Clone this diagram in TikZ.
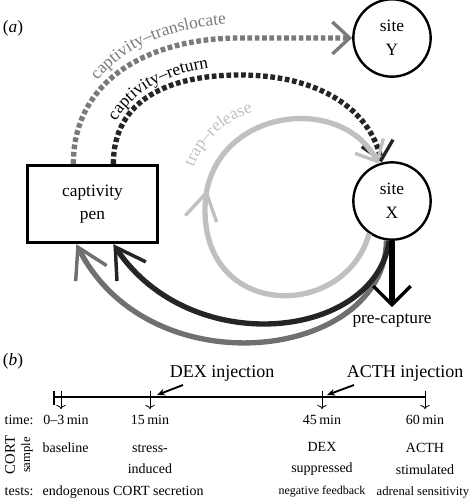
\documentclass[tikz,border=0pt]{standalone}
\usepackage{fontspec}
\setmainfont{Liberation Serif}
\usetikzlibrary{arrows.meta,positioning,calc,decorations.markings,decorations.text}

\definecolor{transgray}{HTML}{7A7A7A}
\definecolor{retdark}{HTML}{252525}
\definecolor{traplight}{HTML}{C0C0C0}
\definecolor{backgray}{HTML}{707070}

\tikzset{
  site/.style={circle,draw,line width=1.8pt,minimum size=58pt,inner sep=0pt,
    align=center,font=\fontsize{13}{18}\selectfont},
  penbox/.style={rectangle,draw,line width=2.2pt,minimum width=97pt,
    minimum height=58pt,align=center,font=\fontsize{13}{17}\selectfont},
  move/.style={line width=4pt,dash pattern=on 3.5pt off 2pt,
    -{Straight Barb[length=13pt,width=24pt,line width=2.5pt]}},
  back/.style={line width=4pt,-{Straight Barb[length=22pt,width=26pt,line width=2.6pt]}},
  curvelab/.style={decorate,decoration={text along path,text align=center,
    text={|\fontsize{13}{15}\selectfont\color{#1}|\pathtext}}},
  tl/.style={font=\fontsize{10.5}{16}\selectfont,align=center},
  inj/.style={line width=1.4pt,-{Stealth[length=6pt,width=5pt]}},
  samp/.style={line width=0.6pt,-{To[length=3pt,width=7pt]}}
}

\begin{document}
\begin{tikzpicture}[x=0.75pt,y=-0.75pt]
\useasboundingbox (0,0) rectangle (474,500);

%(a) places
\node[font=\fontsize{13}{15}\selectfont] (pa) at (13,28) {(\textit{a})};
\node[penbox] (pen) at (92.5,204) {captivity\\pen};
\node[site] (siteY) at (392,38) {site\\Y};
\node[site] (siteX) at (392,201) {site\\X};

%moves out of the pen
\draw[move,transgray] ($(pen.north west)+(47,0)$) .. controls +(0,-85) and (150,38) .. (240,38) -- (siteY.west);
\draw[move,retdark] ($(pen.north west)+(87,0)$) .. controls +(0,-65) and (170,75) .. (240,75)
  .. controls (320,75) and (370,110) .. (siteX.105);

%trap-release loop
\draw[traplight,line width=4pt,-{Straight Barb[length=13pt,width=24pt,line width=2.5pt]},
  postaction={decorate},
  decoration={markings,mark=at position 0.545 with {\arrow[traplight,line width=2.5pt]{Straight Barb[length=20pt,width=24pt]}}}]
  (siteX.235) .. controls (345,320) and (205,320) .. (205,210)
  .. controls (205,110) and (340,90) .. (siteX.110);

%back to the pen
\draw[back,backgray] (siteX.262) .. controls (385,360) and (150,390) .. ($(pen.south west)+(50,0)$);
\draw[back,retdark] (siteX.266) .. controls (375,340) and (190,360) .. ($(pen.south west)+(87,0)$);

%pre-capture
\node[font=\fontsize{13}{15}\selectfont] (pre) at (392,320) {pre-capture};
\draw[line width=4pt,shorten >=1pt,-{Straight Barb[length=14pt,width=28pt,line width=2.6pt]}] (siteX.south) -- (pre.north);

%path labels
\def\pathtext{captivity–translocate}
\path[curvelab=transgray] (90,92) .. controls (115,50) and (165,27) .. (240,23);
\def\pathtext{captivity–return}
\path[curvelab=black] (110,133) .. controls (127,93) and (165,72) .. (222,66);
\def\pathtext{trap–release}
\path[curvelab=traplight] (189,182) .. controls (199,140) and (228,116) .. (268,108);

%(b) timeline
\node[font=\fontsize{13}{15}\selectfont] (pb) at (13,361) {(\textit{b})};
\coordinate (start) at (54,397);
\coordinate (end) at (425,397);
\draw[line width=1.1pt] (start) -- (end);
\draw[line width=1.1pt] (54,391) -- (54,405);

%time labels
\node[tl,anchor=west] (time) at (0,420) {time:};
\node[tl] (t0) at (66,420) {0–3\,min};
\node[tl] (t15) at (150,420) {15\,min};
\node[tl] (t45) at (322,420) {45\,min};
\node[tl] (t60) at (425,420) {60\,min};

%sample arrows
\draw[samp] (61,391) -- (61,409);
\foreach \t in {15,45,60}
\draw[samp] (t\t.north |- 0,391) -- (t\t.north |- 0,409);

%injections
\node[font=\fontsize{13.5}{16}\selectfont] (dex) at (222,373) {DEX injection};
\node[font=\fontsize{13.5}{16}\selectfont] (acth) at (405,373) {ACTH injection};
\draw[inj] (183,385) -- (157,395);
\draw[inj] (354,385) -- (327,395);

%CORT sample
\node[rotate=90,font=\fontsize{11}{12}\selectfont] (cort) at (10,455) {CORT};
\node[rotate=90,font=\fontsize{9.5}{10}\selectfont] (sample) at (27,455) {sample};
\node[tl,anchor=west] (base) at (38,448) {baseline};
\node[tl] (stress) at (150,459) {stress-\\induced};
\node[tl] (dexs) at (322,459) {DEX\\suppressed};
\node[tl] (acths) at (425,459) {ACTH\\stimulated};

%tests
\node[tl,anchor=west] (tests) at (0,492) {tests:};
\node[tl,anchor=west] (endo) at (38,492) {endogenous CORT secretion};
\node[font=\fontsize{9}{11}\selectfont] (neg) at (322,492) {negative feedback};
\node[font=\fontsize{9.5}{11}\selectfont] (adr) at (423,492) {adrenal sensitivity};

\end{tikzpicture}
\end{document}
